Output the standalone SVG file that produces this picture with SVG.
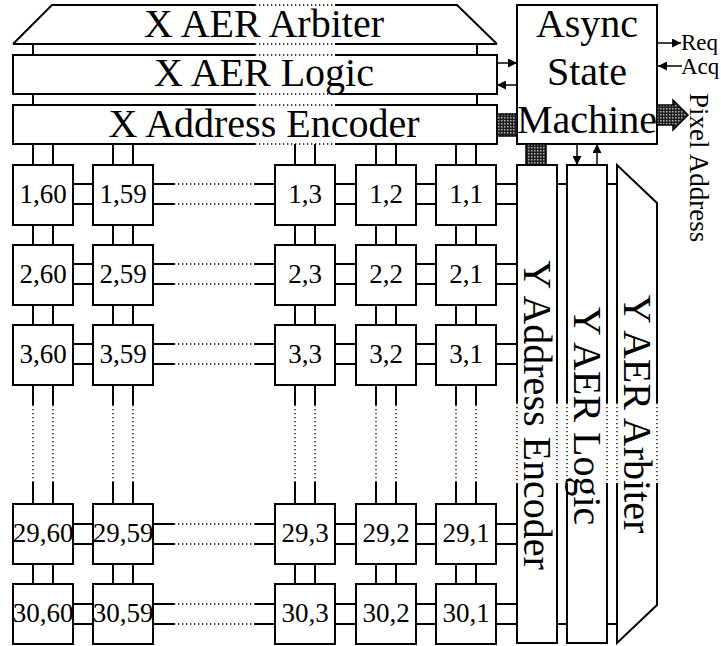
<svg xmlns="http://www.w3.org/2000/svg" width="721" height="646" viewBox="0 0 721 646">
<style>
.f{fill:#fff;stroke:none}
.b{fill:#fff;stroke:#000;stroke-width:2}
.l{fill:none;stroke:#000;stroke-width:2}
.d{fill:none;stroke:#000;stroke-width:1.3;stroke-dasharray:1.3 2.7}
.a{fill:none;stroke:#000;stroke-width:1.5;marker-end:url(#ah)}
.t{font-family:"Liberation Serif","Times New Roman",serif;font-size:40px;fill:#000;text-anchor:middle}
.c{font-family:"Liberation Serif","Times New Roman",serif;font-size:27px;fill:#000;text-anchor:middle}
.s{font-family:"Liberation Serif","Times New Roman",serif;font-size:23px;fill:#000}
.p{fill:url(#dots);stroke:#000;stroke-width:1.5}
</style>
<defs>
<marker id="ah" viewBox="0 0 8 8" refX="8" refY="4" markerWidth="9" markerHeight="9" markerUnits="userSpaceOnUse" orient="auto"><path d="M0,0 L8,4 L0,8 z" fill="#000"/></marker>
<pattern id="dots" width="3" height="3" patternUnits="userSpaceOnUse"><rect width="3" height="3" fill="#1e1e1e"/><rect width="1.5" height="1.5" fill="#b0b0b0"/></pattern>
</defs>

<g id="x-aer-arbiter">
<polygon class="f" points="13,44 52,5 457,5 497,44"/>
<path class="l" d="M13,44 L52,5 H255 M335,5 H457 L497,44 M13,44 H255 M335,44 H497"/>
<path class="d" d="M255,5 H335 M255,44 H335"/>
<text class="t" x="264" y="37">X AER Arbiter</text>
</g>
<g id="x-aer-logic">
<rect class="f" x="13" y="55" width="484" height="39"/>
<path class="l" d="M255,55 H13 V94 H255 M335,55 H497 V94 H335"/>
<path class="d" d="M255,55 H335 M255,94 H335"/>
<text class="t" x="264" y="86">X AER Logic</text>
</g>
<g id="x-address-encoder">
<rect class="f" x="13" y="105" width="484" height="39"/>
<path class="l" d="M255,105 H13 V144 H255 M335,105 H497 V144 H335"/>
<path class="d" d="M255,105 H335 M255,144 H335"/>
<text class="t" x="264" y="137">X Address Encoder</text>
</g>
<g id="async-state-machine">
<rect class="b" x="517" y="5" width="140" height="139"/>
<text class="t" x="587" y="37">Async</text>
<text class="t" x="587" y="85">State</text>
<text class="t" x="587" y="133">Machine</text>
</g>
<g id="y-address-encoder">
<rect class="f" x="517" y="165" width="40" height="478"/>
<path class="l" d="M517,403 V165 H557 V403 M517,483 V643 H557 V483"/>
<path class="d" d="M517,403 V483 M557,403 V483"/>
<text class="t" transform="translate(524,415) rotate(90)" x="0" y="0">Y Address Encoder</text>
</g>
<g id="y-aer-logic">
<rect class="f" x="567" y="165" width="40" height="478"/>
<path class="l" d="M567,403 V165 H607 V403 M567,483 V643 H607 V483"/>
<path class="d" d="M567,403 V483 M607,403 V483"/>
<text class="t" transform="translate(574,416) rotate(90)" x="0" y="0">Y AER Logic</text>
</g>
<g id="y-aer-arbiter">
<polygon class="f" points="617,165 657,203 657,605 617,643"/>
<path class="l" d="M617,403 V165 L657,203 V403 M617,483 V643 L657,605 V483"/>
<path class="d" d="M617,403 V483 M657,403 V483"/>
<text class="t" transform="translate(624,414) rotate(90)" x="0" y="0">Y AER Arbiter</text>
</g>

<g id="cells">
<g id="cell-1-60"><rect class="b" x="13" y="165" width="60" height="60"/><text class="c" x="43" y="203">1,60</text></g>
<g id="cell-1-59"><rect class="b" x="93" y="165" width="60" height="60"/><text class="c" x="123" y="203">1,59</text></g>
<g id="cell-1-3"><rect class="b" x="275" y="165" width="60" height="60"/><text class="c" x="305" y="203">1,3</text></g>
<g id="cell-1-2"><rect class="b" x="356" y="165" width="60" height="60"/><text class="c" x="386" y="203">1,2</text></g>
<g id="cell-1-1"><rect class="b" x="436" y="165" width="60" height="60"/><text class="c" x="466" y="203">1,1</text></g>
<g id="cell-2-60"><rect class="b" x="13" y="245" width="60" height="60"/><text class="c" x="43" y="283">2,60</text></g>
<g id="cell-2-59"><rect class="b" x="93" y="245" width="60" height="60"/><text class="c" x="123" y="283">2,59</text></g>
<g id="cell-2-3"><rect class="b" x="275" y="245" width="60" height="60"/><text class="c" x="305" y="283">2,3</text></g>
<g id="cell-2-2"><rect class="b" x="356" y="245" width="60" height="60"/><text class="c" x="386" y="283">2,2</text></g>
<g id="cell-2-1"><rect class="b" x="436" y="245" width="60" height="60"/><text class="c" x="466" y="283">2,1</text></g>
<g id="cell-3-60"><rect class="b" x="13" y="325" width="60" height="60"/><text class="c" x="43" y="363">3,60</text></g>
<g id="cell-3-59"><rect class="b" x="93" y="325" width="60" height="60"/><text class="c" x="123" y="363">3,59</text></g>
<g id="cell-3-3"><rect class="b" x="275" y="325" width="60" height="60"/><text class="c" x="305" y="363">3,3</text></g>
<g id="cell-3-2"><rect class="b" x="356" y="325" width="60" height="60"/><text class="c" x="386" y="363">3,2</text></g>
<g id="cell-3-1"><rect class="b" x="436" y="325" width="60" height="60"/><text class="c" x="466" y="363">3,1</text></g>
<g id="cell-29-60"><rect class="b" x="13" y="504" width="60" height="60"/><text class="c" x="43" y="542">29,60</text></g>
<g id="cell-29-59"><rect class="b" x="93" y="504" width="60" height="60"/><text class="c" x="123" y="542">29,59</text></g>
<g id="cell-29-3"><rect class="b" x="275" y="504" width="60" height="60"/><text class="c" x="305" y="542">29,3</text></g>
<g id="cell-29-2"><rect class="b" x="356" y="504" width="60" height="60"/><text class="c" x="386" y="542">29,2</text></g>
<g id="cell-29-1"><rect class="b" x="436" y="504" width="60" height="60"/><text class="c" x="466" y="542">29,1</text></g>
<g id="cell-30-60"><rect class="b" x="13" y="584" width="60" height="60"/><text class="c" x="43" y="622">30,60</text></g>
<g id="cell-30-59"><rect class="b" x="93" y="584" width="60" height="60"/><text class="c" x="123" y="622">30,59</text></g>
<g id="cell-30-3"><rect class="b" x="275" y="584" width="60" height="60"/><text class="c" x="305" y="622">30,3</text></g>
<g id="cell-30-2"><rect class="b" x="356" y="584" width="60" height="60"/><text class="c" x="386" y="622">30,2</text></g>
<g id="cell-30-1"><rect class="b" x="436" y="584" width="60" height="60"/><text class="c" x="466" y="622">30,1</text></g>
</g>

<g id="connectors">
<path class="l" d="M33,44 V55 M33,94 V105 M477,44 V55 M477,94 V105 M557,184 H567 M607,184 H617 M557,624 H567 M607,624 H617"/>
<path class="l" d="M33,144 V165 M33,225 V245 M33,305 V325 M33,385 V405 M33,482 V504 M33,564 V584
M53,144 V165 M53,225 V245 M53,305 V325 M53,385 V405 M53,482 V504 M53,564 V584
M113,144 V165 M113,225 V245 M113,305 V325 M113,385 V405 M113,482 V504 M113,564 V584
M133,144 V165 M133,225 V245 M133,305 V325 M133,385 V405 M133,482 V504 M133,564 V584
M295,144 V165 M295,225 V245 M295,305 V325 M295,385 V405 M295,482 V504 M295,564 V584
M315,144 V165 M315,225 V245 M315,305 V325 M315,385 V405 M315,482 V504 M315,564 V584
M376,144 V165 M376,225 V245 M376,305 V325 M376,385 V405 M376,482 V504 M376,564 V584
M396,144 V165 M396,225 V245 M396,305 V325 M396,385 V405 M396,482 V504 M396,564 V584
M456,144 V165 M456,225 V245 M456,305 V325 M456,385 V405 M456,482 V504 M456,564 V584
M476,144 V165 M476,225 V245 M476,305 V325 M476,385 V405 M476,482 V504 M476,564 V584"/>
<path class="d" d="M33,405 V482 M53,405 V482 M113,405 V482 M133,405 V482 M295,405 V482 M315,405 V482 M376,405 V482 M396,405 V482 M456,405 V482 M476,405 V482"/>
<path class="l" d="M73,184 H93 M153,184 H174 M255,184 H275 M335,184 H356 M416,184 H436 M496,184 H517
M73,204 H93 M153,204 H174 M255,204 H275 M335,204 H356 M416,204 H436 M496,204 H517
M73,264 H93 M153,264 H174 M255,264 H275 M335,264 H356 M416,264 H436 M496,264 H517
M73,284 H93 M153,284 H174 M255,284 H275 M335,284 H356 M416,284 H436 M496,284 H517
M73,344 H93 M153,344 H174 M255,344 H275 M335,344 H356 M416,344 H436 M496,344 H517
M73,364 H93 M153,364 H174 M255,364 H275 M335,364 H356 M416,364 H436 M496,364 H517
M73,524 H93 M153,524 H174 M255,524 H275 M335,524 H356 M416,524 H436 M496,524 H517
M73,544 H93 M153,544 H174 M255,544 H275 M335,544 H356 M416,544 H436 M496,544 H517
M73,604 H93 M153,604 H174 M255,604 H275 M335,604 H356 M416,604 H436 M496,604 H517
M73,624 H93 M153,624 H174 M255,624 H275 M335,624 H356 M416,624 H436 M496,624 H517"/>
<path class="d" d="M174,184 H255 M174,204 H255 M174,264 H255 M174,284 H255 M174,344 H255 M174,364 H255 M174,524 H255 M174,544 H255 M174,604 H255 M174,624 H255"/>
<line class="a" x1="497" y1="63" x2="517" y2="63"/>
<line class="a" x1="517" y1="85" x2="497" y2="85"/>
<line class="a" x1="577" y1="144" x2="577" y2="165"/>
<line class="a" x1="597" y1="165" x2="597" y2="144"/>
<line class="a" x1="657" y1="43" x2="681" y2="43"/>
<line class="a" x1="682" y1="66" x2="658" y2="66"/>
<rect class="p" x="497" y="114" width="20" height="22"/>
<rect class="p" x="526" y="144" width="20" height="21"/>
<path class="p" d="M657,105 H673 V100 L688,115 L673,130 V125 H657 z"/>
</g>

<g id="labels">
<text class="s" x="681" y="50">Req</text>
<text class="s" x="681" y="74">Acq</text>
<text class="s" transform="translate(690,93) rotate(90)" x="0" y="0" style="font-size:27px">Pixel Address</text>
</g>
</svg>
